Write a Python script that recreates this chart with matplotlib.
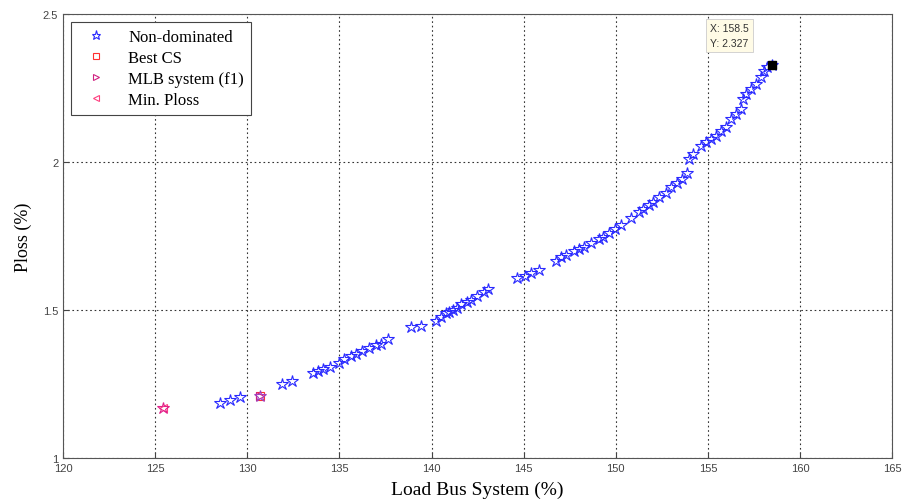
import matplotlib
matplotlib.use("Agg")
import matplotlib.pyplot as plt

# Pareto front: load bus system (%) vs Ploss (%)
load_bus = [128.53, 129.08, 129.62, 131.90, 132.45, 133.59, 133.86, 134.13, 134.51,
            134.95, 135.27, 135.60, 135.92, 136.25, 136.58, 136.96, 137.23, 137.66,
            138.86, 139.40, 140.22, 140.49, 140.76, 140.92, 141.14, 141.36, 141.58,
            141.90, 142.12, 142.45, 142.83, 143.04, 144.62, 145.05, 145.38, 145.82,
            146.74, 147.01, 147.28, 147.72, 147.99, 148.26, 148.64, 149.08, 149.29,
            149.62, 149.95, 150.27, 150.82, 151.25, 151.47, 151.79, 152.01, 152.34,
            152.72, 152.99, 153.32, 153.59, 153.86, 153.97, 154.18, 154.62, 154.89,
            155.16, 155.43, 155.71, 155.98, 156.25, 156.52, 156.79, 156.90, 157.07,
            157.34, 157.61, 157.88, 158.04, 158.21, 158.50]
ploss = [1.186, 1.196, 1.206, 1.250, 1.260, 1.287, 1.294, 1.301, 1.307,
         1.321, 1.334, 1.345, 1.351, 1.361, 1.372, 1.382, 1.385, 1.402,
         1.443, 1.446, 1.463, 1.476, 1.490, 1.493, 1.500, 1.507, 1.520,
         1.527, 1.534, 1.547, 1.561, 1.571, 1.608, 1.615, 1.625, 1.635,
         1.666, 1.679, 1.686, 1.699, 1.706, 1.713, 1.726, 1.740, 1.747,
         1.760, 1.774, 1.787, 1.811, 1.831, 1.841, 1.855, 1.865, 1.882,
         1.895, 1.916, 1.929, 1.943, 1.963, 2.010, 2.027, 2.054, 2.068,
         2.078, 2.088, 2.105, 2.118, 2.145, 2.162, 2.179, 2.213, 2.230,
         2.247, 2.264, 2.287, 2.307, 2.321, 2.327]

best_cs = (130.71, 1.209)
mlb_f1 = (130.71, 1.209)
min_ploss = (125.43, 1.169)
tip = (158.5, 2.327)

fig = plt.figure(figsize=(9.02, 5.02), dpi=100)
ax = fig.add_axes([0.070, 0.086, 0.919, 0.884])

ax.plot(load_bus, ploss, linestyle="none", marker="*", ms=9, mfc="none",
        mec="#2a2aff", mew=0.8, label="Non-dominated")
ax.plot(*best_cs, linestyle="none", marker="s", ms=6, mfc="none",
        mec="#ff3030", mew=0.8, label="Best CS")
ax.plot(*mlb_f1, linestyle="none", marker=">", ms=6, mfc="none",
        mec="#d02080", mew=0.8, label="MLB system (f1)")
ax.plot(*min_ploss, linestyle="none", marker="<", ms=6, mfc="none",
        mec="#ff4080", mew=0.8, label="Min. Ploss")
ax.plot(*min_ploss, linestyle="none", marker="*", ms=9, mfc="none",
        mec="#e0208a", mew=0.8)
ax.plot(*best_cs, linestyle="none", marker="*", ms=9, mfc="none",
        mec="#a040c0", mew=0.8)

# data tip
ax.plot(*tip, linestyle="none", marker="s", ms=6, color="black")
ax.annotate("X: 158.5\nY: 2.327", xy=tip, xytext=(-45, 14), textcoords="offset points",
            fontsize=7.5, family="Liberation Sans", color="#333333", linespacing=1.6,
            bbox=dict(boxstyle="square,pad=0.4", fc="#fffbe6", ec="#cccccc", lw=0.6))

ax.set_xlim(120, 165)
ax.set_ylim(1, 2.5)
ax.set_xticks(range(120, 166, 5))
ax.set_yticks([1, 1.5, 2, 2.5])
ax.set_yticklabels(["1", "1.5", "2", "2.5"])
ax.grid(True, linestyle=(0, (1.5, 2.5)), color="#333333", linewidth=0.8)
ax.tick_params(direction="in", labelsize=8, colors="#444444", length=4)
for lbl in ax.get_xticklabels() + ax.get_yticklabels():
    lbl.set_family("Liberation Sans")
for s in ax.spines.values():
    s.set_color("#555555")

ax.set_xlabel("Load Bus System (%)", family="Liberation Serif", fontsize=14, labelpad=6)
ax.set_ylabel("Ploss (%)", family="Liberation Serif", fontsize=13, labelpad=8)

leg = ax.legend(loc="upper left", prop={"family": "Liberation Serif", "size": 12},
                fancybox=False, edgecolor="#444444", framealpha=1, markerscale=0.75,
                borderaxespad=0.5, handletextpad=0.8, labelspacing=0.3,
                handlelength=2.2, borderpad=0.4)
leg.get_frame().set_linewidth(0.8)

fig.savefig("out.png", dpi=100)
